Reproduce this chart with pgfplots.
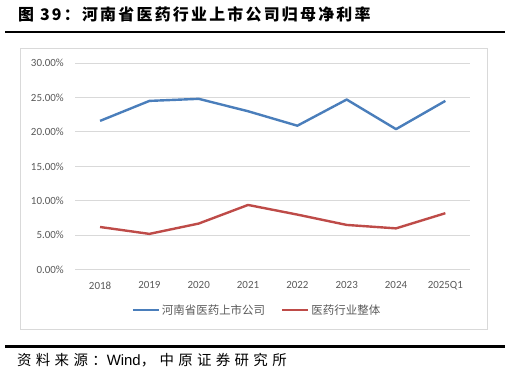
\documentclass[border=0pt]{standalone}
\usepackage{fontspec}
\setmainfont{Carlito}
\newfontfamily\cjk{Noto Sans CJK SC}
\newfontfamily\cjktitle{Noto Sans CJK SC}[LetterSpace=14]
\newfontfamily\cjksrc{Noto Sans CJK SC}[LetterSpace=30]
\newfontfamily\arial{Liberation Sans}
\usepackage{pgfplots}
\pgfplotsset{compat=1.18}
\definecolor{myblue}{HTML}{4A7EBB}
\definecolor{myred}{HTML}{BE4B48}
\definecolor{gridgray}{HTML}{D9D9D9}
\definecolor{labelgray}{HTML}{595959}
\definecolor{boxgray}{HTML}{D9D9D9}
\begin{document}
\begin{tikzpicture}[x=1bp,y=1bp]
\path[use as bounding box] (0,0) rectangle (510,-378);
\node[anchor=base west, inner sep=0pt, font=\cjktitle\bfseries\fontsize{16}{16}\selectfont] at (18,-20) {图 39：河南省医药行业上市公司归母净利率};
\draw[line width=2bp] (5,-31.5) -- (505,-31.5);
\draw[color=boxgray, line width=0.9bp] (20.7,-48.3) rectangle (487.7,-329.3);
\draw[line width=2.5bp] (5,-346.7) -- (505,-346.7);
\node[anchor=base west, inner sep=0pt, font=\cjksrc\fontsize{14.5}{14.5}\selectfont] at (17,-365.5) {资料来源：{\arial\fontsize{15}{15}\selectfont Wind}，中原证券研究所};
\begin{axis}[
  at={(75.4bp,-269.7bp)}, anchor=south west,
  scale only axis, width=394.6bp, height=206.7bp,
  xmin=-0.5, xmax=7.5, ymin=0, ymax=30,
  xtick={0,1,2,3,4,5,6,7},
  xticklabels={2018,2019,2020,2021,2022,2023,2024,2025Q1},
  ytick={0,5,10,15,20,25,30},
  /pgf/number format/assume math mode=true,
  yticklabel={\pgfmathprintnumber[fixed,fixed zerofill,precision=2]{\tick}\%},
  ymajorgrids, grid style={color=gridgray, line width=0.9bp},
  axis line style={draw=none},
  major tick length=0pt,
  tick label style={font=\fontsize{11}{11}\selectfont, color=labelgray},
  xticklabel style={anchor=north, inner sep=0pt, yshift=-11.8bp},
  yticklabel style={anchor=east, inner sep=0pt, xshift=-11.4bp},
  legend columns=2,
  legend style={at={(0.46,-0.195)}, anchor=center, draw=none, fill=none,
    font=\cjk\fontsize{11.5}{11.5}\selectfont, text=labelgray,
    /tikz/every even column/.append style={column sep=14bp}},
  legend image code/.code={\draw[#1] (0bp,0bp) -- (26bp,0bp);},
  clip=false,
]
\addplot[color=myblue, line width=2.4bp, line join=round] coordinates {
(0,21.6) (1,24.5) (2,24.8) (3,23.0) (4,20.9) (5,24.7) (6,20.4) (7,24.5)};
\addlegendentry{河南省医药上市公司}
\addplot[color=myred, line width=2.4bp, line join=round] coordinates {
(0,6.2) (1,5.2) (2,6.7) (3,9.4) (4,8.0) (5,6.5) (6,6.0) (7,8.2)};
\addlegendentry{医药行业整体}
\end{axis}
\end{tikzpicture}
\end{document}
